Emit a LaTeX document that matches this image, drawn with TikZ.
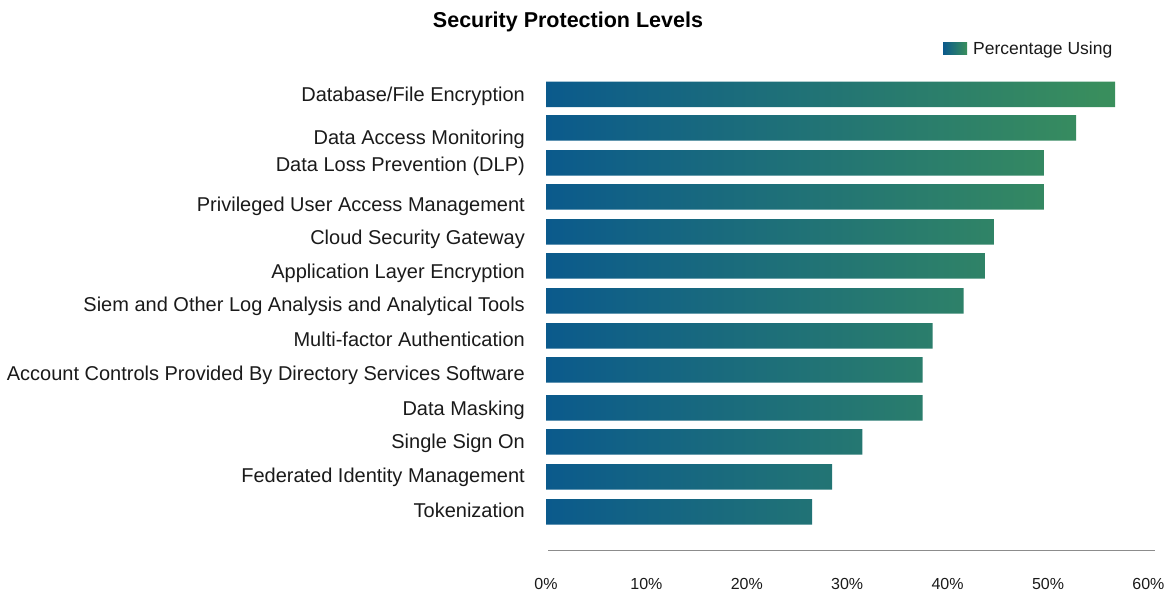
\documentclass[tikz,border=0pt]{standalone}
\usepackage{fontspec}
\setmainfont{Liberation Sans}
\definecolor{barblue}{HTML}{0B5A8C}
\definecolor{bargreen}{HTML}{3A8F5C}
\definecolor{axisgray}{HTML}{8C8C8C}
\definecolor{txt}{HTML}{1A1A1A}

\begin{document}
\begin{tikzpicture}[x=1pt, y=-1pt,
    catlabel/.style={anchor=base east, inner sep=0pt, text=txt, font=\fontsize{20}{24}\selectfont},
    ticklabel/.style={anchor=base, inner sep=0pt, text=txt, font=\fontsize{16}{19}\selectfont},
    barshade/.style={left color=barblue, right color=bargreen}]
    \useasboundingbox (0,0) rectangle (1167,594);

    % Title and legend
    \node[anchor=base, inner sep=0pt, text=black, font=\bfseries\fontsize{21.5}{26}\selectfont] (title) at (568,28) {Security Protection Levels};
    \shade[barshade] (943,43) rectangle (967,55);
    \node[anchor=base west, inner sep=0pt, text=txt, font=\fontsize{17.5}{21}\selectfont] (legend) at (973,54.5) {Percentage Using};

    % Bars, clipped out of one shading so the colour runs across the whole chart
    \begin{scope}
        \clip \foreach \top/\val in {81.7/56.7, 115/52.8, 150/49.6, 184/49.6, 219/44.6, 253/43.7, 288/41.6,
                                      323/38.5, 357/37.5, 395/37.5, 429/31.5, 464/28.5, 499/26.5}
            { (546,\top) rectangle ({546+10.04*\val},\top+25.5) };
        \shade[barshade] (546,80) rectangle (1115,530);
    \end{scope}

    % Category labels
    \foreach \base/\name [count=\i] in {101/{Database/File Encryption}, 144/{Data Access Monitoring},
            171.7/{Data Loss Prevention (DLP)}, 211.7/{Privileged User Access Management},
            244/{Cloud Security Gateway}, 278/{Application Layer Encryption},
            311.7/{Siem and Other Log Analysis and Analytical Tools}, 346/{Multi-factor Authentication},
            380.7/{Account Controls Provided By Directory Services Software}, 415/{Data Masking},
            448/{Single Sign On}, 482.7/{Federated Identity Management}, 517/{Tokenization}}
        \node[catlabel] (lbl\i) at (525,\base) {\name};

    % Axis and ticks
    \coordinate (axisL) at (548,550.5);
    \coordinate (axisR) at (1155,550.5);
    \draw[axisgray, line width=1.5pt] (axisL) -- (axisR);
    \foreach \p in {0,10,...,60}
        \node[ticklabel] (tick\p) at ({546+10.04*\p},589) {\p\%};
\end{tikzpicture}
\end{document}
